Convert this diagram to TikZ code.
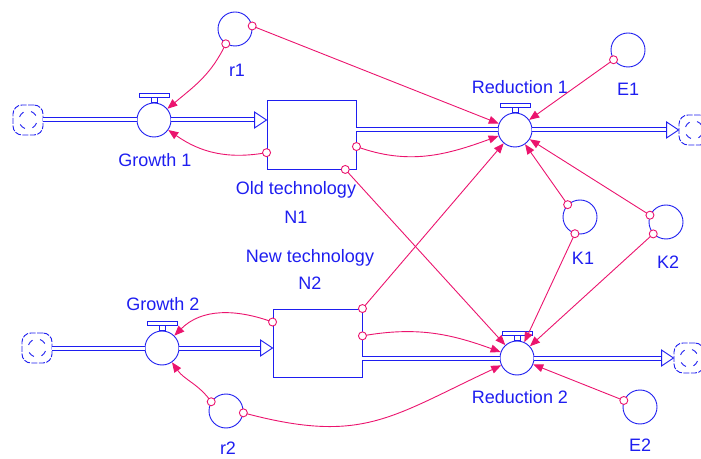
\documentclass[tikz,border=0pt]{standalone}
\usepackage{fontspec}
\setmainfont{Liberation Sans}
\usetikzlibrary{arrows.meta}
\definecolor{linkpink}{RGB}{235,20,110}
\definecolor{simblue}{RGB}{30,30,240}
\tikzset{
  valve/.style={circle, draw=simblue, line width=0.9pt, fill=white, minimum size=34pt, inner sep=0pt},
  aux/.style={circle, draw=simblue, line width=0.9pt, minimum size=34pt, inner sep=0pt},
  level/.style={rectangle, draw=simblue, line width=0.9pt, fill=white, inner sep=0pt},
  srcsink/.style={rectangle, rounded corners=9pt, draw=simblue, line width=0.9pt,
    dash pattern=on 6pt off 1.5pt, minimum size=30pt, inner sep=0pt, fill=white,
    path picture={\foreach \a in {30,120,210,300}
      \draw[simblue, line width=0.9pt, solid] (path picture bounding box.center) ++(\a:9)
        arc[start angle=\a, end angle=\a+40, radius=9];}},
  lbl/.style={text=simblue, inner sep=1pt, font=\fontsize{18}{20}\selectfont},
  pipe/.style={draw=simblue, line width=1pt, double=white, double distance=3pt},
  link/.style={linkpink, line width=0.9pt, -{Triangle[length=10pt,width=8pt]}},
  dot/.style={circle, draw=linkpink, fill=white, line width=0.9pt, minimum size=8pt, inner sep=0pt},
  pipetip/.pic={\draw[simblue, line width=0.9pt, fill=white] (-12,-8) -- (0,0) -- (-12,8) -- cycle;}
}
\begin{document}
\begin{tikzpicture}[x=1pt,y=1pt]
  \useasboundingbox (0,0) rectangle (701,458);
  \node[level, minimum width=89pt, minimum height=69pt] (n1) at (311.5,323.5) {};
  \node[level, minimum width=89pt, minimum height=68pt] (n2) at (317.5,115) {};
  \draw
    (154,338) node[valve] (g1){}
    (515,328) node[valve] (d1){}
    (162,110) node[valve] (g2){}
    (517,100) node[valve] (d2){};
  \foreach \v in {g1,d1,g2,d2} {
    \draw[simblue, line width=0.9pt, fill=white] (\v.north) ++(-3,0) rectangle ++(6,5);
    \draw[simblue, line width=0.9pt, fill=white] (\v.north) ++(-15,5) rectangle ++(30,4);
  }
  \draw
    (28,338) node[srcsink] (c1){}
    (37,110) node[srcsink] (c2){}
    (694,328) node[srcsink] (c3){}
    (689,100) node[srcsink] (c4){};
  \draw
    (235,429) node[aux] (r1){}
    (628,408) node[aux] (e1){}
    (580,241) node[aux] (k1){}
    (666,236) node[aux] (k2){}
    (226,47) node[aux] (r2){}
    (640,51) node[aux] (e2){};
  \draw
    (237,388) node[lbl] (r1l){r1}
    (155,298) node[lbl] (g1l){Growth 1}
    (296,268) node[lbl] (n1l){Old technology}
    (296,241) node[lbl] (n1m){N1}
    (520,371) node[lbl] (d1l){Reduction 1}
    (628,369) node[lbl] (e1l){E1}
    (583,200) node[lbl] (k1l){K1}
    (668,196) node[lbl] (k2l){K2}
    (310,200) node[lbl] (n2l){New technology}
    (310,175) node[lbl] (n2m){N2}
    (163,154) node[lbl] (g2l){Growth 2}
    (228,10) node[lbl] (r2l){r2}
    (520,61) node[lbl] (d2l){Reduction 2}
    (640,13) node[lbl] (e2l){E2};
  \draw[pipe] (c1) -- (g1);
  \draw[pipe, shorten >=12pt] (g1) -- (g1 -| n1.west);
  \draw[pipe] (n1.east |- d1) -- (d1);
  \draw[pipe, shorten >=12pt] (d1) -- (c3);
  \draw[pipe] (c2) -- (g2);
  \draw[pipe, shorten >=12pt] (g2) -- (g2 -| n2.west);
  \draw[pipe] (n2.east |- d2) -- (d2);
  \draw[pipe, shorten >=12pt] (d2) -- (c4);
  \pic at (g1 -| n1.west) {pipetip};
  \pic at (c3.west) {pipetip};
  \pic at (g2 -| n2.west) {pipetip};
  \pic at (c4.west) {pipetip};
  \begin{scope}[link]
    \draw (r1.238) node[dot]{} to[out=245,in=40] (g1);
    \draw (r1.10) node[dot]{} -- (d1);
    \draw (n1.202) node[dot]{} to[out=190,in=-35] (g1);
    \draw (n1.-15) node[dot]{} to[out=-20,in=200] (d1);
    \draw (n1.-46) node[dot]{} -- (d2);
    \draw (e1.214) node[dot]{} -- (d1);
    \draw (k1.135) node[dot]{} -- (d1);
    \draw (k2.157) node[dot]{} -- (d1);
    \draw (k1.253) node[dot]{} -- (d2);
    \draw (k2.223) node[dot]{} -- (d2);
    \draw (n2.north east) node[dot]{} -- (d1);
    \draw (n2.9) node[dot]{} to[out=10,in=160] (d2);
    \draw (n2.155) node[dot]{} to[out=160,in=45] (g2);
    \draw (r2.148) node[dot]{} to[out=125,in=-55] (g2);
    \draw (r2.-6) node[dot]{} to[out=-15,in=205, looseness=1.2] (d2);
    \draw (e2.158) node[dot]{} -- (d2);
  \end{scope}
\end{tikzpicture}
\end{document}
